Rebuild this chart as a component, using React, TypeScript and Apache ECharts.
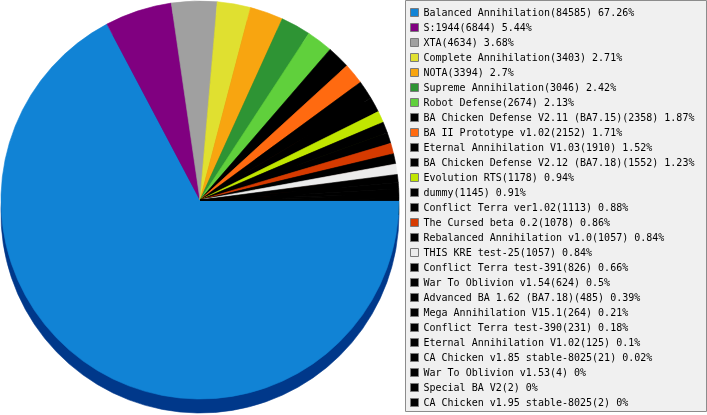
import { useEffect, useRef } from "react";
import * as echarts from "echarts";

const NAMES = [
  "Balanced Annihilation",
  "S:1944",
  "XTA",
  "Complete Annihilation",
  "NOTA",
  "Supreme Annihilation",
  "Robot Defense",
  "BA Chicken Defense V2.11 (BA7.15)",
  "BA II Prototype v1.02",
  "Eternal Annihilation V1.03",
  "BA Chicken Defense V2.12 (BA7.18)",
  "Evolution RTS",
  "dummy",
  "Conflict Terra ver1.02",
  "The Cursed beta 0.2",
  "Rebalanced Annihilation v1.0",
  "THIS KRE test-25",
  "Conflict Terra test-391",
  "War To Oblivion v1.54",
  "Advanced BA 1.62 (BA7.18)",
  "Mega Annihilation V15.1",
  "Conflict Terra test-390",
  "Eternal Annihilation V1.02",
  "CA Chicken v1.85 stable-8025",
  "War To Oblivion v1.53",
  "Special BA V2",
  "CA Chicken v1.95 stable-8025",
];

const VALUES = [
  84585, 6844, 4634, 3403, 3394, 3046, 2674, 2358, 2152, 1910, 1552, 1178, 1145,
  1113, 1078, 1057, 1057, 826, 624, 485, 264, 231, 125, 21, 4, 2, 2,
];

const COLORS = [
  "#1183d5", "#800080", "#a0a0a0", "#e0e030", "#f8a510", "#2e9434", "#60d03c",
  "#000000", "#ff6a10", "#000000", "#000000", "#c0e600", "#000000", "#000000",
  "#d63a00", "#000000", "#ececec", "#000000", "#000000", "#000000", "#000000",
  "#000000", "#000000", "#000000", "#000000", "#000000", "#000000",
];

const SIDE_BLUE = "#00388a";

function shade(c: string, i: number): string {
  if (i === 0) return SIDE_BLUE;
  const n = parseInt(c.slice(1), 16);
  const r = Math.round(((n >> 16) & 255) * 0.55);
  const g = Math.round(((n >> 8) & 255) * 0.55);
  const b = Math.round((n & 255) * 0.55);
  return "rgb(" + r + "," + g + "," + b + ")";
}

export default function App() {
  const ref = useRef<HTMLDivElement>(null);
  useEffect(() => {
    const chart = echarts.init(ref.current!, null, { renderer: "svg" });
    const total = VALUES.reduce((a, b) => a + b, 0);
    const idx: Record<string, number> = {};
    NAMES.forEach((n, i) => (idx[n] = i));
    const pct = (v: number) => String(Math.round((v / total) * 10000) / 100);
    const data = NAMES.map((n, i) => ({
      name: n,
      value: VALUES[i],
      itemStyle: { color: COLORS[i], borderColor: COLORS[i], borderWidth: 0.6 },
    }));
    const side = NAMES.map((n, i) => {
      const c = shade(COLORS[i], i);
      return {
        name: n,
        value: VALUES[i],
        itemStyle: { color: c, borderColor: c, borderWidth: 0.6 },
      };
    });
    const pieCommon = {
      type: "pie" as const,
      radius: 199,
      startAngle: 0,
      clockwise: true,
      label: { show: false },
      labelLine: { show: false },
      silent: true,
      emphasis: { disabled: true },
    };
    chart.setOption({
      animation: false,
      graphic: [
        {
          type: "rect",
          z: -1,
          shape: { x: 405.5, y: 0.5, width: 301, height: 411 },
          style: { fill: "#f0f0f0", stroke: "#8c8c8c", lineWidth: 1 },
        },
      ],
      legend: {
        orient: "vertical",
        left: 410,
        top: 5,
        padding: 0,
        itemGap: 0,
        itemWidth: 8,
        itemHeight: 8,
        icon: "rect",
        selectedMode: false,
        itemStyle: { borderColor: "#7a7a7a", borderWidth: 1 },
        textStyle: {
          fontFamily: "DejaVu Sans Mono",
          fontSize: 10,
          color: "#000",
          lineHeight: 15,
        },
        data: NAMES,
        formatter: (name: string) =>
          name + "(" + VALUES[idx[name]] + ") " + pct(VALUES[idx[name]]) + "%",
      },
      series: [
        { ...pieCommon, name: "main", z: 3, center: [200, 200], data },
        { ...pieCommon, name: "side", z: 2, center: [200, 214], data: side },
      ],
    });
    return () => chart.dispose();
  }, []);
  return (
    <div
      ref={ref}
      style={{ position: "fixed", left: 0, top: 0, width: 707, height: 415 }}
    />
  );
}
